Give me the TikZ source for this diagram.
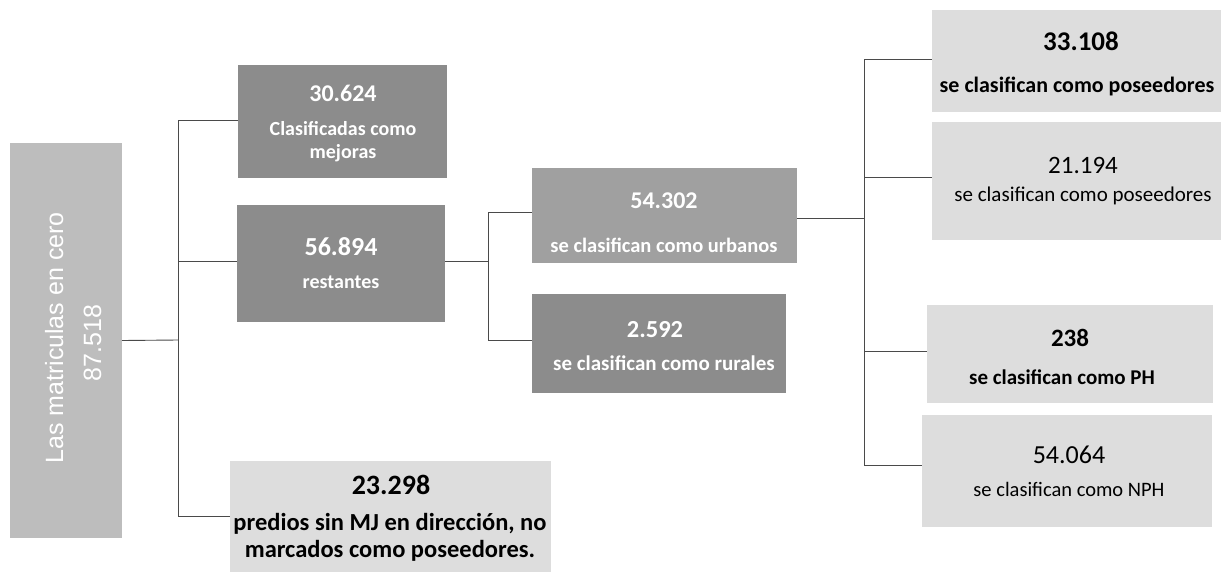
\documentclass[tikz,border=0pt]{standalone}
\usepackage{fontspec}
\setmainfont{Carlito}
\newfontfamily\rootfont{Liberation Sans}
\definecolor{rootgray}{HTML}{BDBDBD}
\definecolor{darkbox}{HTML}{8C8C8C}
\definecolor{midbox}{HTML}{A0A0A0}
\definecolor{lightbox}{HTML}{DDDDDD}
\definecolor{linegray}{HTML}{4A4A4A}
\begin{document}
\begin{tikzpicture}[x=1pt,y=-1pt,
  boxn/.style={inner sep=0pt, outer sep=0pt, anchor=north west, draw=none},
  lbl/.style={inner sep=0pt, anchor=base, text=black},
  wlbl/.style={inner sep=0pt, anchor=base, text=white},
  conn/.style={draw=linegray, line width=0.9pt}]
\useasboundingbox (0,0) rectangle (1221,571);
\clip (0,0) rectangle (1221,571);
\fill[white] (0,0) rectangle (1221,571);

% boxes
\node[boxn, fill=rootgray, minimum width=112pt, minimum height=395pt] (root) at (10,143) {};
\node[boxn, fill=darkbox, minimum width=209pt, minimum height=113pt] (mej) at (238,65) {};
\node[boxn, fill=darkbox, minimum width=208pt, minimum height=117pt] (rest) at (237,205) {};
\node[boxn, fill=lightbox, minimum width=321pt, minimum height=125pt] (bot) at (230,461) {};
\node[boxn, fill=midbox, minimum width=265pt, minimum height=95pt] (urb) at (532,168) {};
\node[boxn, fill=darkbox, minimum width=254pt, minimum height=99pt] (rur) at (532,294) {};
\node[boxn, fill=lightbox, minimum width=300pt, minimum height=102pt] (p1) at (932,10) {};
\node[boxn, fill=lightbox, minimum width=300pt, minimum height=118pt] (p2) at (932,122) {};
\node[boxn, fill=lightbox, minimum width=286pt, minimum height=98pt] (ph) at (927,305) {};
\node[boxn, fill=lightbox, minimum width=290pt, minimum height=112pt] (nph) at (922,415) {};

% root text
\node[wlbl, rotate=90, font=\rootfont\fontsize{25}{25}\selectfont] (roott1) at (63,338) {Las matriculas en cero};
\node[wlbl, rotate=90, font=\rootfont\fontsize{25}{25}\selectfont] (roott2) at (101,343) {87.518};

% mejoras
\node[wlbl, font=\bfseries\fontsize{24}{24}\selectfont] (mejn) at (343,101) {30.624};
\node[wlbl, font=\bfseries\fontsize{20}{20}\selectfont] (mejt1) at (343,135) {Clasificadas como};
\node[wlbl, font=\bfseries\fontsize{20}{20}\selectfont] (mejt2) at (343,158) {mejoras};
% restantes
\node[wlbl, font=\bfseries\fontsize{26}{26}\selectfont] (restn) at (341,255) {56.894};
\node[wlbl, font=\bfseries\fontsize{20}{20}\selectfont] (restt) at (341,288) {restantes};
% bottom
\node[lbl, font=\bfseries\fontsize{28}{28}\selectfont] (botn) at (391,494) {23.298};
\node[lbl, font=\bfseries\fontsize{24.5}{24.5}\selectfont] (bott1) at (390,530) {predios sin MJ en dirección, no};
\node[lbl, font=\bfseries\fontsize{24.5}{24.5}\selectfont] (bott2) at (390,557) {marcados como poseedores.};
% urbanos
\node[wlbl, font=\bfseries\fontsize{24}{24}\selectfont] (urbn) at (664,208) {54.302};
\node[wlbl, font=\bfseries\fontsize{20.5}{20.5}\selectfont] (urbt) at (664,252) {se clasifican como urbanos};
% rurales
\node[wlbl, font=\bfseries\fontsize{24.5}{24.5}\selectfont] (rurn) at (655,337) {2.592};
\node[wlbl, font=\bfseries\fontsize{21}{21}\selectfont] (rurt) at (664,370) {se clasifican como rurales};
% right boxes
\node[lbl, font=\bfseries\fontsize{27}{27}\selectfont] (p1n) at (1081,50) {33.108};
\node[lbl, font=\bfseries\fontsize{22}{22}\selectfont] (p1t) at (1077,92) {se clasifican como poseedores};
\node[lbl, font=\fontsize{25}{25}\selectfont] (p2n) at (1083,173) {21.194};
\node[lbl, font=\fontsize{21}{21}\selectfont] (p2t) at (1083,201) {se clasifican como poseedores};
\node[lbl, font=\bfseries\fontsize{25}{25}\selectfont] (phn) at (1070,346) {238};
\node[lbl, font=\bfseries\fontsize{21}{21}\selectfont] (pht) at (1062,384) {se clasifican como PH};
\node[lbl, font=\fontsize{26}{26}\selectfont] (nphn) at (1069,463) {54.064};
\node[lbl, font=\fontsize{20.5}{20.5}\selectfont] (npht) at (1069,496) {se clasifican como NPH};

% connectors
\coordinate (j1) at (178,340);
\coordinate (j2) at (488,261);
\coordinate (j3) at (864,218);
\draw[conn] (root.east) -- (j1);
\draw[conn] (j1) |- ([yshift=1.5pt]mej.west);
\draw[conn] (j1) |- ([yshift=2.5pt]rest.west);
\draw[conn] (j1) |- ([yshift=7pt]bot.west);
\draw[conn] ([yshift=2.5pt]rest.east) -- (j2);
\draw[conn] (j2) |- ([yshift=3.5pt]urb.west);
\draw[conn] (j2) |- ([yshift=3.5pt]rur.west);
\draw[conn] ([yshift=-2.5pt]urb.east) -- (j3);
\draw[conn] (j3) |- ([yshift=2pt]p1.west);
\draw[conn] (j3) |- ([yshift=4pt]p2.west);
\draw[conn] (j3) |- ([yshift=3pt]ph.west);
\draw[conn] (j3) |- ([yshift=6pt]nph.west);
\end{tikzpicture}
\end{document}
